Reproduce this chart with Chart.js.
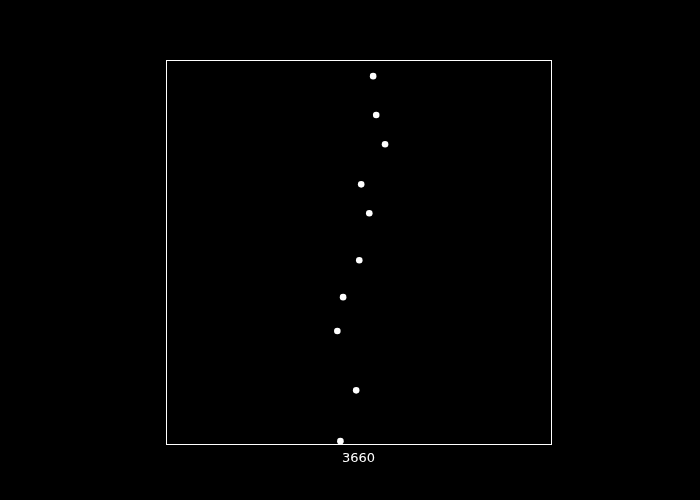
<!DOCTYPE html>
<html>
<head>
<meta charset="utf-8">
<script src="https://cdn.jsdelivr.net/npm/chart.js@4"></script>
<style>
  html, body { margin: 0; padding: 0; background: #000; }
  #wrap { width: 700px; height: 500px; }
</style>
</head>
<body>
<div id="wrap"><canvas id="myChart" width="700" height="500"></canvas></div>
<script>
// one category, points spread horizontally (jitter) inside it
const categories = ['3660'];
const values = [95.8, 85.7, 78.1, 67.7, 60.2, 48.0, 38.4, 29.6, 14.2, 1.0];
const jitter = [0.038, 0.046, 0.069, 0.007, 0.028, 0.002, -0.040, -0.055, -0.006, -0.047];

const points = values.map((v, i) => ({ x: jitter[i], y: v }));

// white frame around the plot area
const frame = {
    id: 'frame',
    afterDraw(chart) {
        const a = chart.chartArea;
        const c = chart.ctx;
        c.save();
        c.strokeStyle = '#ffffff';
        c.lineWidth = 1;
        c.strokeRect(Math.round(a.left) + 0.5, Math.round(a.top) + 0.5,
            Math.round(a.right - a.left), Math.round(a.bottom - a.top) - 1);
        c.restore();
    }
};

const ctx = document.getElementById('myChart').getContext('2d');
const myChart = new Chart(ctx, {
    type: 'scatter',
    data: {
        datasets: [{
            label: categories[0],
            data: points,
            backgroundColor: '#ffffff',
            borderWidth: 0,
            pointRadius: 3.3,
            pointHoverRadius: 3.3
        }]
    },
    options: {
        responsive: false,
        animation: false,
        layout: { padding: { left: 166, right: 149, top: 60, bottom: 0 } },
        plugins: {
            legend: { display: false },
            tooltip: { enabled: false }
        },
        scales: {
            x: {
                type: 'linear',
                min: -0.5,
                max: 0.5,
                grid: { display: false, drawTicks: false },
                border: { display: false },
                afterBuildTicks: (scale) => { scale.ticks = [{ value: 0 }]; },
                afterFit: (scale) => { scale.height = 55; },
                ticks: {
                    color: '#ffffff',
                    padding: 6,
                    font: { family: 'DejaVu Sans', size: 13 },
                    callback: () => categories[0]
                }
            },
            y: {
                display: false,
                min: 0,
                max: 100
            }
        }
    },
    plugins: [frame]
});
</script>
</body>
</html>
